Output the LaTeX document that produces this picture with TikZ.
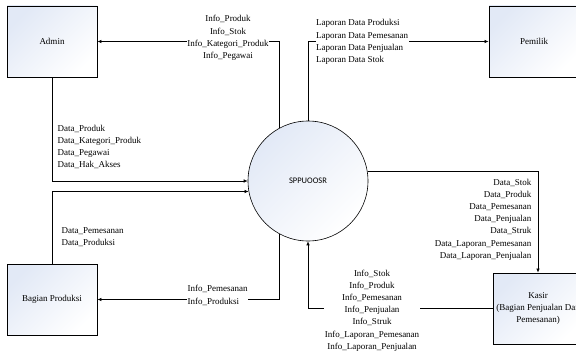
\documentclass[tikz,border=0pt]{standalone}
\usepackage{fontspec}
\setmainfont{Liberation Serif}
\newfontfamily\procfont{Carlito}
\usetikzlibrary{arrows.meta}
\definecolor{tint}{RGB}{226,233,246}
\begin{document}
\begin{tikzpicture}[x=1pt,y=-1pt,
  ent/.style={draw, line width=0.8pt, minimum width=90pt, minimum height=71pt,
    top color=tint, bottom color=white, shading angle=45,
    font=\fontsize{9}{12}\selectfont, align=center, inner sep=0pt},
  proc/.style={circle, draw, line width=0.6pt, minimum size=120pt,
    top color=tint, bottom color=white, shading angle=45,
    font=\procfont\fontsize{8.5}{10}\selectfont, inner sep=0pt},
  flow/.style={draw, line width=0.7pt, -{Latex[length=4pt,width=3.5pt]}},
  lbl/.style={fill=white, inner sep=0.5pt, font=\fontsize{9}{12.2}\selectfont},
]
\useasboundingbox (0,0) rectangle (576,353);
\clip (0,0) rectangle (576,353);

% external entities and the process
\node (admin)   [ent] at (52,41.5)   {Admin};
\node (pemilik) [ent] at (534,41.5)  {Pemilik};
\node (prod)    [ent] at (52,299.5)  {Bagian Produksi};
\node (kasir)   [ent] at (538,308.5) {Kasir\\(Bagian Penjualan Dan\\Pemesanan)};
\node (circ)    [proc] at (308,181)  {SPPUOOSR};

% data flows
\draw[flow] (circ.118) |- (admin.east);
\draw[flow] (circ.north) |- (pemilik.west);
\draw[flow] (admin.south) |- (circ.west);
\draw[flow] (prod.north) |- (circ.190);
\draw[flow] (circ.242) |- (prod.east);
\draw[flow] (circ.9) -| (kasir.north);
\draw[flow] (kasir.west) -| (circ.south);

% flow labels
\node (l1) [lbl, align=center] at (228,38)
  {Info\_Produk\\Info\_Stok\\Info\_Kategori\_Produk\\Info\_Pegawai};
\node (l2) [lbl, align=left, anchor=west] at (315.5,42)
  {Laporan Data Produksi\\Laporan Data Pemesanan\\Laporan Data Penjualan\\Laporan Data Stok};
\node (l3) [lbl, align=left, anchor=west] at (57,147)
  {Data\_Produk\\Data\_Kategori\_Produk\\Data\_Pegawai\\Data\_Hak\_Akses};
\node (l4) [lbl, align=left, anchor=west] at (61,237)
  {Data\_Pemesanan\\Data\_Produksi};
\node (l5) [lbl, align=left, anchor=west] at (187,295.5)
  {Info\_Pemesanan\\Info\_Produksi};
\node (l6) [lbl, align=right, anchor=east] at (532,219.5)
  {Data\_Stok\\Data\_Produk\\Data\_Pemesanan\\Data\_Penjualan\\Data\_Struk\\Data\_Laporan\_Pemesanan\\Data\_Laporan\_Penjualan};
\node (l7) [lbl, align=center] at (372,310.5)
  {Info\_Stok\\Info\_Produk\\Info\_Pemesanan\\Info\_Penjualan\\Info\_Struk\\Info\_Laporan\_Pemesanan\\Info\_Laporan\_Penjualan};
\end{tikzpicture}
\end{document}
